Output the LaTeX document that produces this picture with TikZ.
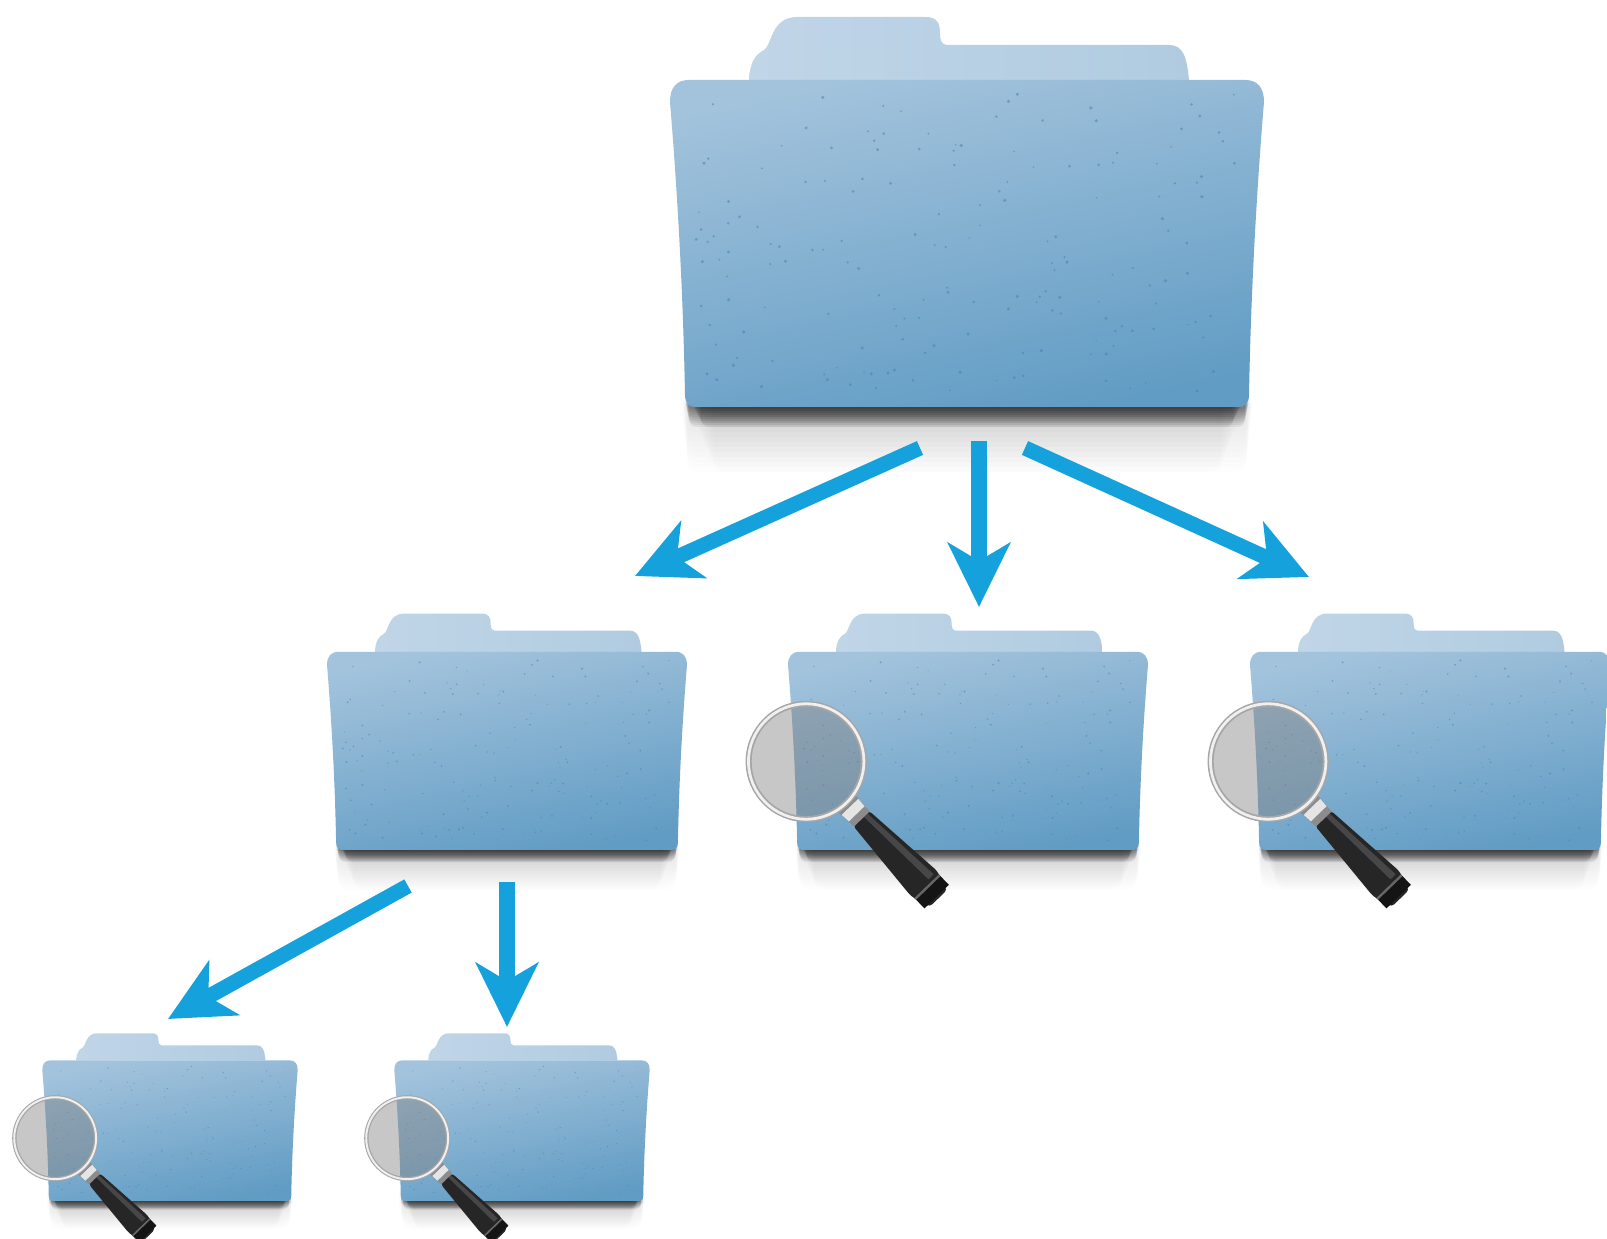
\documentclass[tikz,border=0pt]{standalone}
\usepackage{tikz}
\usetikzlibrary{arrows.meta}

\definecolor{flowblue}{HTML}{15A2DC}
\definecolor{frontlight}{HTML}{A3C3DC}
\definecolor{frontmid}{HTML}{82B0D1}
\definecolor{frontdark}{HTML}{619CC4}
\definecolor{tabedge}{HTML}{B0CBE0}
\definecolor{tabmid}{HTML}{C2D7E8}
\definecolor{speck}{HTML}{3F7FAE}

\tikzset{
  flow/.style={-{Stealth[length=6.4mm,width=6.2mm,inset=1.8mm]},line width=4.3pt,flowblue},
  folder/.pic={
    % soft reflection, then the dark band right under the front
    \foreach \d in {.05,.10,...,.70}{
      \fill[black,opacity=.009,rounded corners=3pt] (-2.86+\d*.1,.1) rectangle (2.86-\d*.1,-\d);
      \fill[black,opacity=.009,rounded corners=3pt] (-2.80+\d*.4,.1) rectangle (2.80-\d*.4,-\d);
    }
    \foreach \d in {.02,.04,...,.2}{
      \fill[black,opacity=.06,rounded corners=2pt] (-2.82+\d*.2,.1) rectangle (2.82-\d*.2,-\d);
      \fill[black,opacity=.05,rounded corners=2pt] (-2.76+\d*.5,.1) rectangle (2.76-\d*.5,-\d);
    }
    \shade[left color=tabmid!90!tabedge,middle color=tabmid,right color=tabedge]
      (-2.18,3.27) .. controls (-2.17,3.45) and (-2.12,3.52) .. (-2.03,3.57)
      .. controls (-1.95,3.62) and (-1.96,3.9) .. (-1.70,3.90) -- (-.42,3.90)
      .. controls (-.30,3.90) and (-.27,3.84) .. (-.27,3.74)
      .. controls (-.27,3.68) and (-.26,3.62) .. (-.20,3.62) -- (2.02,3.62)
      .. controls (2.16,3.62) and (2.20,3.5) .. (2.22,3.27) -- cycle;
    \shade[top color=frontlight,middle color=frontmid,bottom color=frontdark,shading angle=12]
      (-2.97,3.05) .. controls (-2.97,3.2) and (-2.9,3.27) .. (-2.78,3.27) -- (2.78,3.27)
      .. controls (2.9,3.27) and (2.97,3.2) .. (2.97,3.05)
      .. controls (2.90,2.2) and (2.84,1.2) .. (2.82,.12)
      .. controls (2.82,.04) and (2.78,0) .. (2.72,0) -- (-2.72,0)
      .. controls (-2.78,0) and (-2.82,.04) .. (-2.82,.12)
      .. controls (-2.84,1.2) and (-2.90,2.2) .. (-2.97,3.05) -- cycle;
    \pgfmathsetseed{417}
    \foreach \i in {1,...,170}{
      \pgfmathsetmacro{\px}{2.72*rand}
      \pgfmathsetmacro{\py}{1.65+1.5*rand}
      \pgfmathsetmacro{\pr}{.008+.010*rnd}
      \fill[speck,opacity=.5] (\px,\py) circle (\pr);
    }
  },
  glass/.pic={
    \begin{scope}[shift={(-2.67,1.46)}]
      \begin{scope}[rotate=-46]
        \fill[black!85,rounded corners=1pt] (1.3,-.18) -- (2.80,-.30) -- (3.14,-.20) -- (3.14,.20) -- (2.80,.30) -- (1.3,.18) -- cycle;
        \fill[black!72] (1.3,.05) -- (2.80,.10) -- (2.80,.22) -- (1.3,.13) -- cycle;
        \fill[black!92] (2.86,-.28) rectangle (3.10,.28);
        \fill[black!60] (2.86,-.28) rectangle (2.90,.28);
        \fill[black!45] (.95,-.2) -- (1.32,-.18) -- (1.32,.18) -- (.95,.2) -- cycle;
        \fill[black!10] (1.04,-.19) -- (1.2,-.18) -- (1.2,.18) -- (1.04,.19) -- cycle;
      \end{scope}
      \fill[black!50,opacity=.44] (0,0) circle (.93);
      \fill[black!35,even odd rule] (0,0) circle (1.0) circle (.90);
      \fill[black!6,even odd rule] (0,0) circle (.975) circle (.93);
    \end{scope}
  }
}

\begin{document}
\begin{tikzpicture}
  \useasboundingbox (0,0) rectangle (16.07,12.39);

  \foreach \fx/\fy/\fs in {9.67/8.32/1,5.07/3.89/.606,9.68/3.89/.606,14.30/3.89/.606,1.70/.38/.43,5.22/.38/.43}
    \pic[scale=\fs] at (\fx,\fy) {folder};
  \foreach \fx/\fy/\fs in {9.68/3.89/.606,14.30/3.89/.606,1.70/.38/.43,5.22/.38/.43}
    \pic[scale=\fs] at (\fx,\fy) {glass};

  \coordinate (rootleft) at (9.20,7.91);
  \coordinate (rootmid) at (9.79,7.98);
  \coordinate (rootright) at (10.25,7.91);
  \coordinate (childa) at (6.35,6.63);
  \coordinate (childb) at (9.79,6.32);
  \coordinate (childc) at (13.09,6.62);
  \coordinate (subleft) at (4.08,3.53);
  \coordinate (submid) at (5.07,3.57);
  \coordinate (leafa) at (1.68,2.20);
  \coordinate (leafb) at (5.07,2.12);

  \draw[flow] (rootleft) -- (childa);
  \draw[flow] (rootmid) -- (childb);
  \draw[flow] (rootright) -- (childc);
  \draw[flow] (subleft) -- (leafa);
  \draw[flow] (submid) -- (leafb);
\end{tikzpicture}
\end{document}
